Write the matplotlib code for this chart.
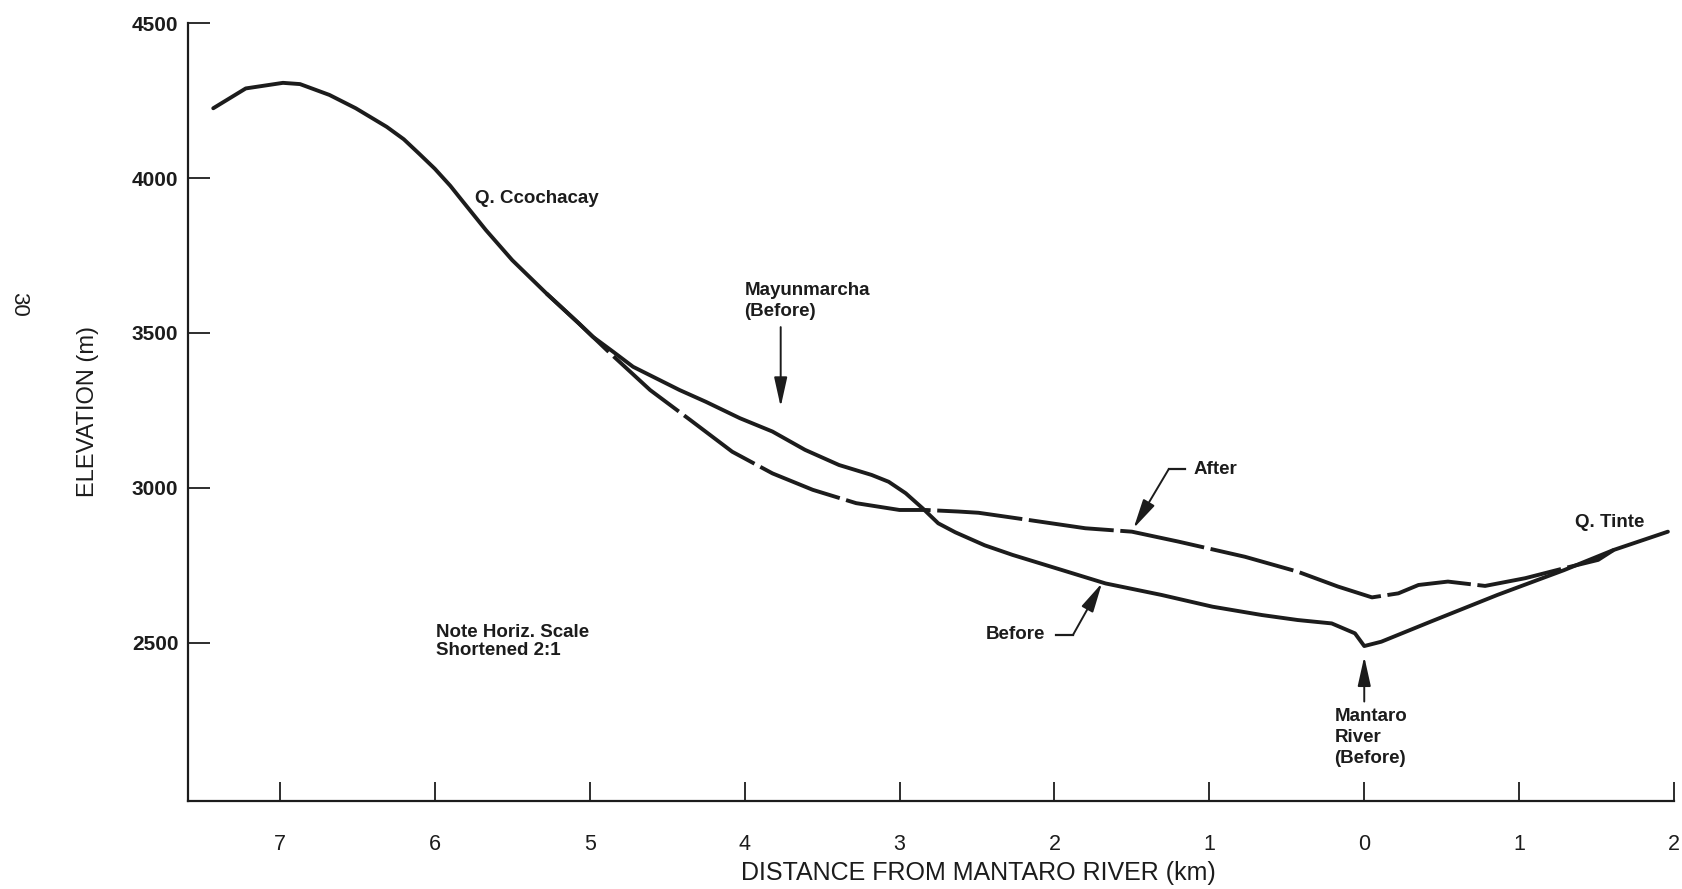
import matplotlib
matplotlib.use("Agg")
import matplotlib.pyplot as plt

plt.rcParams['font.family'] = ['Liberation Sans', 'DejaVu Sans']

# ---- data (signed distance: + = left of river, - = right of river) ----
before_km = [7.43, 7.22, 6.98, 6.87, 6.68, 6.51, 6.31, 6.20, 6.10, 6.00, 5.90, 5.82,
             5.67, 5.50, 5.28, 5.07, 4.98, 4.85, 4.72, 4.42, 4.25, 4.03, 3.82, 3.61,
             3.39, 3.18, 3.07, 2.96, 2.85, 2.75, 2.64, 2.45, 2.27, 1.95, 1.67, 1.31,
             0.98, 0.66, 0.43, 0.21, 0.06, 0.00, -0.11, -0.43, -0.86, -1.29, -1.61, -1.96]
before_elev = [4225, 4289, 4307, 4303, 4268, 4225, 4165, 4125, 4078, 4030, 3975, 3925,
               3832, 3735, 3628, 3531, 3488, 3440, 3391, 3316, 3278, 3225, 3182, 3123,
               3074, 3042, 3020, 2983, 2934, 2886, 2857, 2815, 2784, 2735, 2692, 2655,
               2617, 2590, 2574, 2563, 2531, 2490, 2504, 2569, 2655, 2735, 2800, 2859]

after_km = [5.28, 5.07, 4.98, 4.89, 4.61, 4.35, 4.08, 3.82, 3.56, 3.28, 3.00, 2.83,
            2.62, 2.49, 2.17, 1.80, 1.50, 1.20, 0.77, 0.43, 0.17, -0.05, -0.22, -0.35,
            -0.54, -0.78, -1.04, -1.29, -1.51, -1.61]
after_elev = [3628, 3531, 3488, 3445, 3316, 3219, 3117, 3047, 2994, 2951, 2929, 2929,
              2924, 2920, 2897, 2870, 2859, 2827, 2778, 2730, 2682, 2647, 2660, 2687,
              2698, 2684, 2709, 2741, 2768, 2800]

x_ticks = [7, 6, 5, 4, 3, 2, 1, 0, -1, -2]
x_tick_labels = ["7", "6", "5", "4", "3", "2", "1", "0", "1", "2"]
y_ticks = [2500, 3000, 3500, 4000, 4500]
y_tick_labels = ["2500", "3000", "3500", "4000", "4500"]

# ---- figure ----
fig = plt.figure(figsize=(16.83, 8.89), dpi=100)
ax = fig.add_axes([0.1117, 0.0993, 0.9947 - 0.1117, 0.9741 - 0.0993])

ink = '#1c1c1c'
ax.plot(before_km, before_elev, color=ink, lw=2.8, solid_joinstyle='round',
        solid_capstyle='round')
ax.plot(after_km, after_elev, color=ink, lw=2.8, dashes=(22, 1.7),
        dash_joinstyle='round')

ax.set_xlim(7.593, -2.0)
ax.set_ylim(1991, 4500)

for s in ['top', 'right']:
    ax.spines[s].set_visible(False)
for s in ['left', 'bottom']:
    ax.spines[s].set_linewidth(1.6)
    ax.spines[s].set_color(ink)

ax.set_xticks(x_ticks)
ax.set_xticklabels(x_tick_labels)
ax.set_yticks(y_ticks)
ax.set_yticklabels(y_tick_labels)
ax.tick_params(axis='x', direction='in', length=14, width=1.3, pad=24,
               labelsize=15.5, colors=ink)
ax.tick_params(axis='y', direction='in', length=16, width=1.3, pad=7,
               labelsize=15, colors=ink)
for lab in ax.get_yticklabels():
    lab.set_fontweight('bold')

ax.set_ylabel("ELEVATION (m)", fontsize=17, color=ink)
ax.yaxis.set_label_coords(-0.060, 0.5)
ax.set_xlabel("DISTANCE FROM MANTARO RIVER (km)", fontsize=18, color=ink)
ax.xaxis.set_label_coords(0.5316, -0.077)

fig.text(0.0113, 0.658, "30", rotation=-90, fontsize=16, color=ink,
         ha='center', va='center')

tk = dict(fontsize=13.5, color=ink, fontweight='semibold')
ax.text(5.743, 3934, "Q. Ccochacay", ha='left', va='center', **tk)
ax.text(4.0, 3665, "Mayunmarcha\n(Before)", ha='left', va='top', linespacing=1.3, **tk)
ax.text(1.102, 3060, "After", ha='left', va='center', **tk)
ax.text(2.058, 2526, "Before", ha='right', va='center', **tk)
ax.text(0.193, 2290, "Mantaro\nRiver\n(Before)", ha='left', va='top', linespacing=1.3, **tk)
ax.text(-1.358, 2887, "Q. Tinte", ha='left', va='center', **tk)
ax.text(5.994, 2504, "Note Horiz. Scale\nShortened 2:1", ha='left', va='center',
        linespacing=1.05, **tk)

arr = dict(arrowstyle='-|>,head_length=1.8,head_width=0.4', color=ink, lw=1.4,
           mutation_scale=10, shrinkA=0, shrinkB=0)
ax.annotate("", xy=(3.767, 3262), xytext=(3.767, 3519), arrowprops=arr)
ax.annotate("", xy=(0.0, 2456), xytext=(0.0, 2311), arrowprops=arr)
ax.annotate("", xy=(1.489, 2870), xytext=(1.263, 3060), arrowprops=arr)
ax.annotate("", xy=(1.693, 2693), xytext=(1.88, 2526), arrowprops=arr)
ax.plot([1.263, 1.160], [3060, 3060], color=ink, lw=1.6)
ax.plot([1.99, 1.88], [2526, 2526], color=ink, lw=1.6)

fig.savefig("out.png", dpi=100, facecolor='white')
